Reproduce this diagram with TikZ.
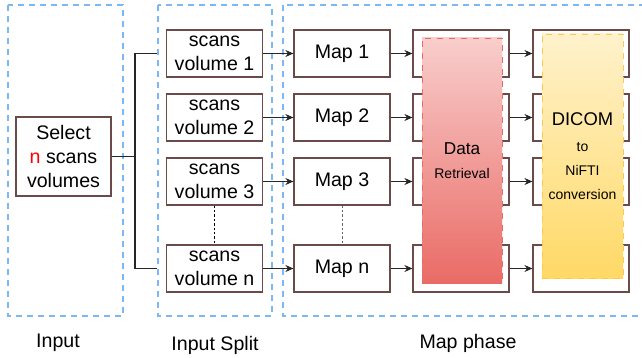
\documentclass[tikz,border=0pt]{standalone}
\usepackage{fontspec}
\setmainfont{Liberation Sans}
\usetikzlibrary{arrows.meta}

\definecolor{boxbrown}{HTML}{6B4A4A}
\definecolor{phaseblue}{HTML}{7EB8F2}
\definecolor{retrtop}{HTML}{F8CECC}
\definecolor{retrbot}{HTML}{EA6B66}
\definecolor{convtop}{HTML}{FFF2CC}
\definecolor{convbot}{HTML}{FFD966}

\tikzset{
  blk/.style={draw=boxbrown, fill=white, line width=0.6pt, inner sep=0pt,
    minimum width=48pt, minimum height=23.5pt, align=center,
    font=\fontsize{9.8}{11.8}\selectfont},
  phase/.style={draw=phaseblue, line width=1pt, dash pattern=on 3pt off 2.5pt},
  flow/.style={-{Stealth[length=4pt,width=3.5pt]}, line width=0.5pt, black!85},
  gap/.style={line width=0.4pt, dash pattern=on 1.2pt off 1pt},
  caption/.style={font=\fontsize{9.8}{11.8}\selectfont}
}

\begin{document}
\begin{tikzpicture}[x=0.5pt,y=-0.5pt]
\useasboundingbox (0,0) rectangle (642,358);

% phases
\draw[phase] (8,5) rectangle (123,316);
\draw[phase] (158,5) rectangle (272,316);
\draw[phase] (283,5) rectangle (670,316);

\node at (58,343) (lin)[caption] {Input};
\node at (215,345) (lsplit)[caption] {Input Split};
\node at (468,343) (lmap)[caption] {Map phase};

% input
\node at (63.5,156.5) (sel)[blk, minimum width=47.5pt, minimum height=39.5pt]
  {Select\\{\color{red}n} scans\\volumes};

% input split
\node at (214.5,53.5) (v1)[blk] {scans\\volume 1};
\node at (214.5,117.5) (v2)[blk] {scans\\volume 2};
\node at (214.5,181.5) (v3)[blk] {scans\\volume 3};
\node at (214.5,268.5) (vn)[blk] {scans\\volume n};

\coordinate (fork) at (135,156.5);
\draw[line width=0.7pt, black!85] (sel) -- (fork);
\draw[line width=0.7pt, black!85, shorten >=4.5pt] (fork) |- (v1.west);
\draw[line width=0.7pt, black!85, shorten >=4.5pt] (fork) |- (vn.west);
\draw[gap] (v3.south) -- (vn.north);

% maps
\node at (342,53.5) (m1)[blk] {Map 1};
\node at (342,117.5) (m2)[blk] {Map 2};
\node at (342,181.5) (m3)[blk] {Map 3};
\node at (342,268.5) (mn)[blk] {Map n};
\draw[gap, black!60] (m3.south) -- (mn.north);

% boxes under data retrieval and conversion
\foreach \i/\y in {1/53.5, 2/117.5, 3/181.5, n/268.5} {
  \node at (461,\y) (r\i)[blk] {};
  \node at (581,\y) (d\i)[blk] {};
}

\foreach \i in {1,2,3,n} {
  \draw[flow] (v\i) -- (m\i);
  \draw[flow] (m\i) -- (r\i);
  \draw[flow] (r\i) -- (d\i);
}

% data retrieval
\node at (462,160.5) (retr)[draw=retrbot, dashed, line width=0.4pt,
  top color=retrtop, bottom color=retrbot, minimum width=40pt,
  minimum height=122.5pt, inner sep=0pt, align=center, text depth=0pt]
  {{\fontsize{8.6}{10}\selectfont Data}\\{\fontsize{7}{8}\selectfont Retrieval}};

% dicom to nifti
\node at (582.5,156) (conv)[draw=convbot!80!orange, dashed, line width=0.4pt,
  top color=convtop, bottom color=convbot, minimum width=40.5pt,
  minimum height=122pt, inner sep=0pt, align=center]
  {{\fontsize{9.2}{10}\selectfont DICOM}\\[1pt]{\fontsize{7}{12.5}\selectfont to}\\
   {\fontsize{7}{12.5}\selectfont NiFTI}\\{\fontsize{7}{11}\selectfont conversion}};
\end{tikzpicture}
\end{document}
